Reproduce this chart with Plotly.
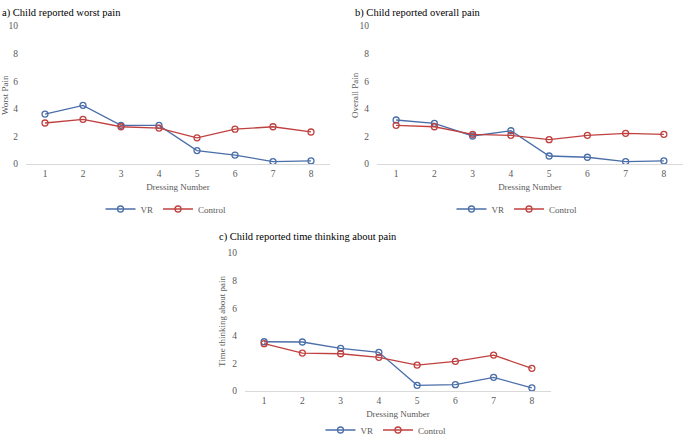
import plotly.graph_objects as go

W, H = 685, 439

dressing = [1, 2, 3, 4, 5, 6, 7, 8]
tick_labels = ["1", "2", "3", "4", "5", "6", "7", "8"]

worst_vr = [3.62, 4.25, 2.8, 2.8, 0.97, 0.65, 0.17, 0.22]
worst_control = [2.97, 3.24, 2.7, 2.6, 1.9, 2.52, 2.7, 2.32]

overall_vr = [3.19, 2.95, 2.03, 2.41, 0.58, 0.49, 0.17, 0.22]
overall_control = [2.8, 2.7, 2.15, 2.08, 1.76, 2.08, 2.22, 2.15]

thinking_vr = [3.57, 3.55, 3.09, 2.8, 0.41, 0.46, 0.99, 0.22]
thinking_control = [3.43, 2.75, 2.7, 2.44, 1.88, 2.15, 2.6, 1.64]

panel_titles = ["a) Child reported worst pain", "b) Child reported overall pain",
                "c) Child reported time thinking about pain"]
y_titles = ["Worst Pain", "Overall Pain", "Time thinking about pain"]
x_title = "Dressing Number"

VR_COLOR = "#4a6ea9"
CTRL_COLOR = "#c0403f"
TXT = "#595959"
FONT = "Times New Roman"


def px_x(x):
    return x / W


def px_y(y):
    return 1 - y / H


# panel geometry in pixels: (x_left, x_right, y_top(10), y_bottom(0))
panels = [
    (26, 330, 26, 164),
    (377, 683, 26, 164),
    (245, 551, 253, 391),
]
title_pos = [(0, 13), (353, 13), (217, 237)]
legend_pos = [(166, 209), (517, 209), (386, 430)]
ytitle_x = [5, 355, 222]

series = [
    (worst_vr, worst_control),
    (overall_vr, overall_control),
    (thinking_vr, thinking_control),
]

fig = go.Figure()
annotations = []
layout = {}

for i, ((vr, ctrl), (xl, xr, yt, yb)) in enumerate(zip(series, panels)):
    n = "" if i == 0 else str(i + 1)
    leg = "legend" if i == 0 else f"legend{i + 1}"
    for name, vals, col in (("VR", vr, VR_COLOR), ("Control", ctrl, CTRL_COLOR)):
        fig.add_trace(go.Scatter(
            x=dressing, y=vals, name=name, mode="lines+markers",
            line=dict(color=col, width=1.3),
            marker=dict(symbol="circle-open", size=6, color=col, line=dict(width=1.3)),
            xaxis="x" + n, yaxis="y" + n, legend=leg, showlegend=True,
        ))
    layout["xaxis" + n] = dict(
        domain=[px_x(xl), px_x(xr)], anchor="y" + n,
        range=[0.5, 8.5], tickvals=dressing, ticktext=tick_labels,
        showgrid=False, zeroline=False, showline=False, ticks="",
        tickfont=dict(family=FONT, size=9.5, color=TXT),
        ticklabelstandoff=2,
        title=dict(text=x_title, font=dict(family=FONT, size=9, color=TXT), standoff=6),
    )
    layout["yaxis" + n] = dict(
        domain=[px_y(yb), px_y(yt)], anchor="x" + n,
        range=[0, 10], tickvals=[0, 2, 4, 6, 8, 10],
        showgrid=False, zeroline=True, zerolinecolor="#d9d9d9", zerolinewidth=1,
        showline=False, ticks="",
        tickfont=dict(family=FONT, size=9.5, color=TXT),
        ticklabelstandoff=7,
    )
    annotations.append(dict(
        text=y_titles[i], textangle=-90, x=px_x(ytitle_x[i]), y=px_y((yt + yb) / 2),
        xref="paper", yref="paper", xanchor="center", yanchor="middle", showarrow=False,
        font=dict(family=FONT, size=9, color=TXT),
    ))
    tx, ty = title_pos[i]
    annotations.append(dict(
        text=panel_titles[i], x=px_x(tx), y=px_y(ty), xref="paper", yref="paper",
        xanchor="left", yanchor="middle", showarrow=False,
        font=dict(family=FONT, size=10.5, color="#000000"),
    ))
    lx, ly = legend_pos[i]
    layout[leg] = dict(
        orientation="h", x=px_x(lx), y=px_y(ly), xanchor="center", yanchor="middle",
        font=dict(family=FONT, size=9, color=TXT), itemwidth=30,
        bgcolor="rgba(0,0,0,0)", tracegroupgap=0, itemclick=False,
    )

fig.update_layout(
    width=W, height=H, margin=dict(l=0, r=0, t=0, b=0, autoexpand=False),
    paper_bgcolor="white", plot_bgcolor="white",
    font=dict(family=FONT, color=TXT),
    annotations=annotations, **layout,
)

fig.write_html("out.html", config={"displayModeBar": False},
               post_script="document.body.style.margin='0';")
